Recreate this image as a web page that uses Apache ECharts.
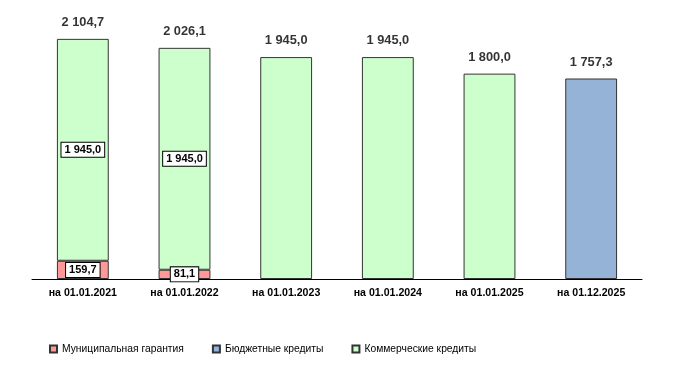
<!DOCTYPE html>
<html><head><meta charset="utf-8">
<script src="https://cdn.jsdelivr.net/npm/echarts@6/dist/echarts.min.js"></script>
<style>html,body{margin:0;padding:0;background:#fff}#c{width:682px;height:368px}</style>
</head><body><div id="c"></div>
<script>
const categories = ['на 01.01.2021','на 01.01.2022','на 01.01.2023','на 01.01.2024','на 01.01.2025','на 01.12.2025'];
const municipalGuarantee = [159.7, 81.1, null, null, null, null];
const budgetCredits = [null, null, null, null, null, 1757.3];
const commercialCredits = [1945.0, 1945.0, 1945.0, 1945.0, 1800.0, null];
const totals = [2104.7, 2026.1, 1945.0, 1945.0, 1800.0, 1757.3];
const innerLabelIdx = [0, 1];

function fmt(v){
  const s = Number(v).toFixed(1).split('.');
  return s[0].replace(/\B(?=(\d{3})+(?!\d))/g,' ') + ',' + s[1];
}
const boxLabel = {show:true, position:'inside', formatter:p=>fmt(p.value), color:'#000', fontFamily:'Liberation Sans', fontWeight:'bold', fontSize:11,
  backgroundColor:'#fff', borderColor:'#000', borderWidth:1, padding:[2,3,1,3]};

const chart = echarts.init(document.getElementById('c'));
chart.setOption({
  animation:false,
  grid:{left:32, right:40, top:28, bottom:89},
  legend:{
    data:['Муниципальная гарантия','Бюджетные кредиты','Коммерческие кредиты'],
    left:49, top:344, padding:0, itemWidth:7, itemHeight:7, itemGap:28,
    textStyle:{fontFamily:'Liberation Sans', fontSize:10.3, color:'#000'},
    icon:'rect'
  },
  xAxis:{type:'category', data:categories,
    axisLine:{lineStyle:{color:'#000', width:1}}, axisTick:{show:false},
    axisLabel:{color:'#000', fontFamily:'Liberation Sans', fontWeight:'bold', fontSize:10.6, margin:9}},
  yAxis:{type:'value', min:0, max:2200, show:false, splitLine:{show:false}},
  series:[
    {name:'Муниципальная гарантия', type:'bar', stack:'a', barWidth:'51%',
     itemStyle:{color:'#FF9999', borderColor:'#333', borderWidth:1},
     label:boxLabel,
     data:municipalGuarantee.map(v=>v==null?'-':v)},
    {name:'Бюджетные кредиты', type:'bar', stack:'a',
     itemStyle:{color:'#95B3D7', borderColor:'#333', borderWidth:1},
     data:budgetCredits.map(v=>v==null?'-':v)},
    {name:'Коммерческие кредиты', type:'bar', stack:'a',
     itemStyle:{color:'#CCFFCC', borderColor:'#333', borderWidth:1},
     data:commercialCredits.map((v,i)=>v==null?'-':(innerLabelIdx.includes(i)?{value:v,label:boxLabel}:v))},
    {name:'total', type:'scatter', symbolSize:0, silent:true,
     label:{show:true, position:'top', distance:10, formatter:p=>fmt(p.value), color:'#000', fontFamily:'Liberation Sans', fontWeight:'bold', fontSize:12.8},
     data:totals}
  ]
});
</script></body></html>
